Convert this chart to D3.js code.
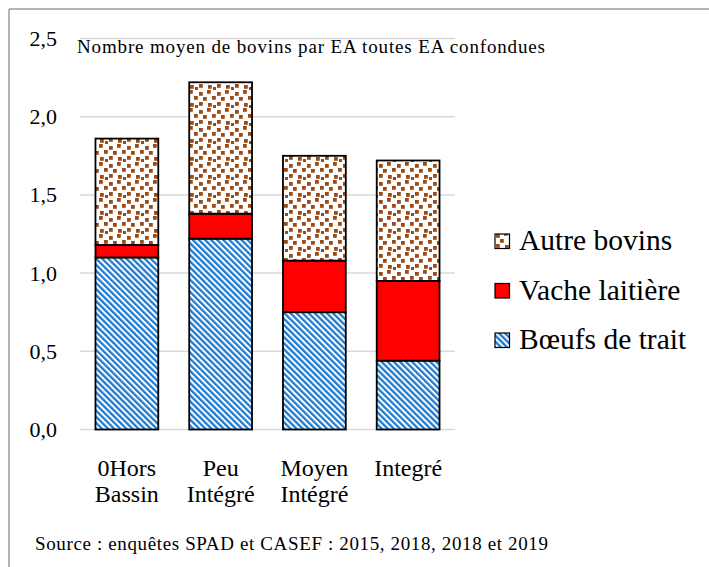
<!DOCTYPE html>
<html>
<head>
<meta charset="utf-8">
<script src="https://cdn.jsdelivr.net/npm/d3@7"></script>
<style>
  body { margin: 0; background: #fff; }
  svg text { font-family: "Liberation Serif", "DejaVu Serif", "Times New Roman", Times, serif; fill: #000; }
</style>
</head>
<body>
<script>
var categories = [["0Hors", "Bassin"], ["Peu", "Intégré"], ["Moyen", "Intégré"], ["Integré"]];
var boeufs = [1.10, 1.22, 0.75, 0.44];
var vache = [0.08, 0.16, 0.33, 0.51];
var autre = [0.68, 0.84, 0.67, 0.77];
var seriesNames = ["Bœufs de trait", "Vache laitière", "Autre bovins"];
var yTicks = [0, 0.5, 1, 1.5, 2, 2.5];

var width = 709, height = 567;
var svg = d3.select("body").append("svg").attr("width", width).attr("height", height);

// patterns
var defs = svg.append("defs");
var stripes = defs.append("pattern").attr("id", "stripes")
  .attr("patternUnits", "userSpaceOnUse").attr("width", 4.3).attr("height", 4.3)
  .attr("patternTransform", "rotate(-45)");
stripes.append("rect").attr("width", 4.3).attr("height", 4.3).attr("fill", "#fff");
stripes.append("rect").attr("width", 2.3).attr("height", 4.3).attr("fill", "#1f7bd0");

var dots = defs.append("pattern").attr("id", "dots")
  .attr("patternUnits", "userSpaceOnUse").attr("width", 18).attr("height", 18);
dots.append("rect").attr("width", 18).attr("height", 18).attr("fill", "#fff");
[[1, 2], [9, 0], [5, 7], [14, 6], [1, 12], [10, 13], [15, 15]].forEach(function(p){
  dots.append("rect").attr("x", p[0]).attr("y", p[1]).attr("width", 3.8).attr("height", 3.8)
    .attr("fill", "#9c4b16");
});
var fills = ["url(#stripes)", "#ff0000", "url(#dots)"];

// frame
svg.append("line").attr("x1", 9).attr("x2", 9).attr("y1", 9).attr("y2", height).attr("stroke", "#9a9a9a").attr("stroke-width", 1.5);
svg.append("line").attr("x1", 9).attr("x2", width).attr("y1", 9).attr("y2", 9).attr("stroke", "#9a9a9a").attr("stroke-width", 1.5);

var x = d3.scaleBand().domain(d3.range(categories.length)).range([80, 455]).paddingInner(0.33).paddingOuter(0.165);
var y = d3.scaleLinear().domain([0, 2.5]).range([429.5, 38.5]);

// grid
svg.append("g").selectAll("line").data(yTicks).enter().append("line")
  .attr("x1", 80).attr("x2", 455)
  .attr("y1", function(d){ return y(d); }).attr("y2", function(d){ return y(d); })
  .attr("stroke", "#d9d9d9").attr("stroke-width", 1.5);

// y labels
svg.append("g").selectAll("text").data(yTicks).enter().append("text")
  .attr("x", 57).attr("y", function(d){ return y(d) + 7.5; })
  .attr("text-anchor", "end").style("font-size", "22px")
  .text(function(d){ return d3.format(".1f")(d).replace(".", ","); });

// stacked data
var table = categories.map(function(c, i){ return {i: i, b: boeufs[i], v: vache[i], a: autre[i]}; });
var stack = d3.stack().keys(["b", "v", "a"])(table);

svg.append("g").selectAll("g").data(stack).enter().append("g")
  .attr("fill", function(d, i){ return fills[i]; })
  .selectAll("rect").data(function(d){ return d; }).enter().append("rect")
  .attr("x", function(d){ return x(d.data.i); })
  .attr("width", x.bandwidth())
  .attr("y", function(d){ return y(d[1]); })
  .attr("height", function(d){ return y(d[0]) - y(d[1]); })
  .attr("stroke", "#000").attr("stroke-width", 1.8);

// category labels
var cat = svg.append("g").selectAll("text").data(categories).enter().append("text")
  .attr("text-anchor", "middle").style("font-size", "24px")
  .attr("x", function(d, i){ return x(i) + x.bandwidth() / 2; })
  .attr("y", 476);
cat.selectAll("tspan").data(function(d){ return d; }).enter().append("tspan")
  .attr("x", function(){ return d3.select(this.parentNode).attr("x"); })
  .attr("dy", function(d, j){ return j === 0 ? 0 : 25.5; })
  .text(function(d){ return d; });

// title
svg.append("text").attr("x", 77).attr("y", 53).style("font-size", "19px")
  .attr("textLength", 468).attr("lengthAdjust", "spacing")
  .text("Nombre moyen de bovins par EA toutes EA confondues");

// legend
var legendOrder = [2, 1, 0];
var leg = svg.append("g").selectAll("g").data(legendOrder).enter().append("g")
  .attr("transform", function(d, k){ return "translate(495," + (250 + k * 49.5) + ")"; });
leg.append("rect").attr("y", -16).attr("width", 14.5).attr("height", 14.5)
  .attr("fill", function(d){ return fills[d]; }).attr("stroke", "#000").attr("stroke-width", 1.2);
leg.append("text").attr("x", 24).attr("y", 0).style("font-size", "29.5px")
  .text(function(d){ return seriesNames[d]; });

// source
svg.append("text").attr("x", 35).attr("y", 550).style("font-size", "19px")
  .attr("textLength", 513).attr("lengthAdjust", "spacing")
  .text("Source : enquêtes SPAD et CASEF : 2015, 2018, 2018 et 2019");
</script>
</body>
</html>
